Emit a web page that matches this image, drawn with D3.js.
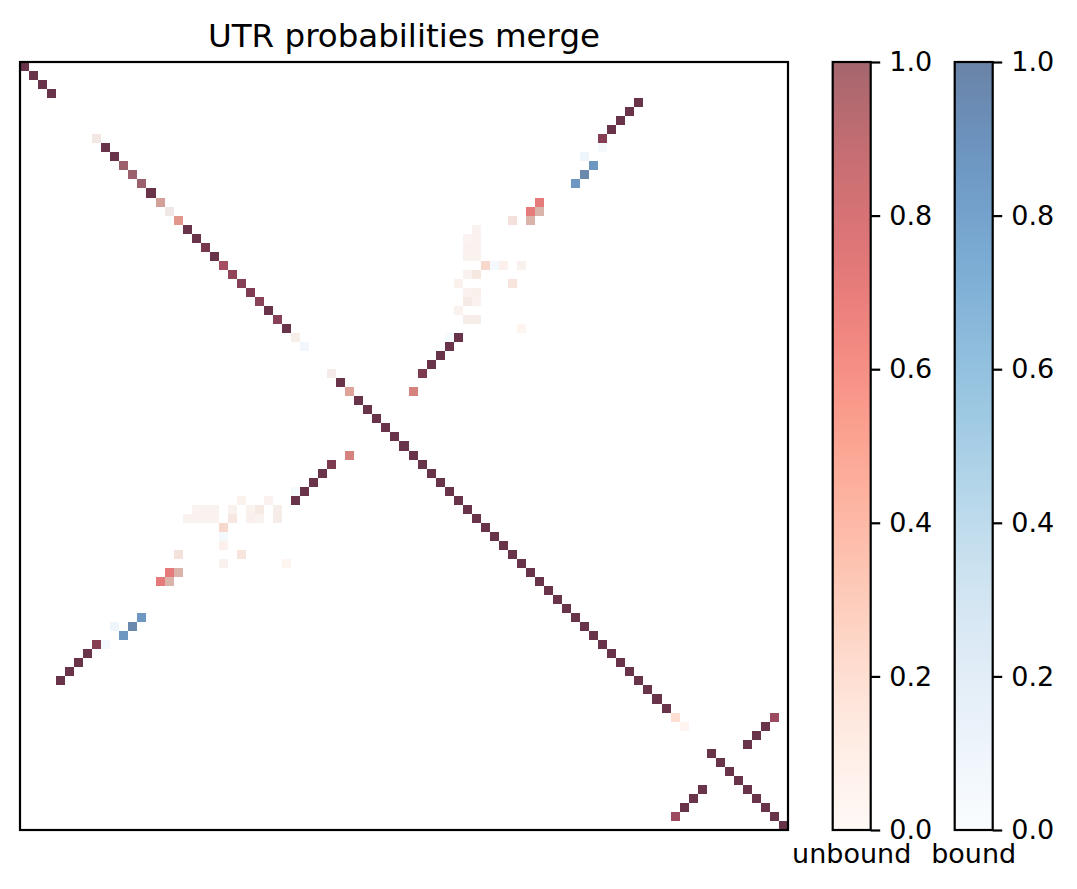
<!DOCTYPE html>
<html>
<head>
<meta charset="utf-8">
<script src="https://cdn.jsdelivr.net/npm/d3@7"></script>
<style>
  body { margin: 0; background: #fff; }
  svg { display: block; font-family: "DejaVu Sans", sans-serif; }
</style>
</head>
<body>
<svg id="chart" width="1077" height="889"></svg>
<script>
// sequence length (matrix is N x N, symmetric)
const N = 85;

// diagonal values, index 0..84 (0 = masked)
const diagUnbound = [
  1, 1, 1, 1, 0, 0, 0, 0, 0.1, 1,
  1, 1, 1, 1, 1, 0.4, 0.08, 0.5, 1, 1,
  0.95, 1, 0.75, 0.85, 0.9, 0.92, 0.88, 1, 0.9, 1,
  0.07, 0, 0, 0, 0.07, 1, 0.42, 1, 1, 1,
  1, 1, 1, 1, 1, 1, 1, 1, 1, 1,
  1, 1, 1, 1, 1, 1, 1, 1, 1, 1,
  1, 1, 1, 1, 1, 1, 1, 1, 1, 1,
  1, 1, 0.2, 0.05, 0, 0, 1, 1, 1, 1,
  1, 1, 1, 1, 1
];
const diagBound = [
  1, 1, 1, 1, 0, 0, 0, 0, 0.2, 1,
  1, 0.15, 0.15, 0.15, 1, 0.6, 0.25, 0.4, 1, 1,
  1, 1, 0.85, 0.9, 0.9, 0.95, 0.88, 1, 0.9, 1,
  0.1, 0.08, 0, 0, 0.15, 1, 0.45, 1, 1, 1,
  1, 1, 1, 1, 1, 1, 1, 1, 1, 1,
  1, 1, 1, 1, 1, 1, 1, 1, 1, 1,
  1, 1, 1, 1, 1, 1, 1, 1, 1, 1,
  1, 1, 0, 0, 0, 0, 1, 1, 1, 1,
  1, 1, 1, 1, 1
];

// off-diagonal pairs (upper triangle): [i, j, unbound, bound]
const pairs = [
  [4, 68, 1, 1], [5, 67, 1, 1], [6, 66, 1, 1], [7, 65, 1, 1],
  [8, 64, 0.9, 0.95], [9, 64, 0, 0.05], [10, 62, 0, 0.1],
  [11, 63, 0, 0.88], [12, 62, 0, 0.97], [13, 61, 0, 0.87],
  [15, 57, 0.72, 0], [16, 56, 0.72, 0], [16, 57, 0.33, 0.5],
  [17, 54, 0.15, 0.15], [17, 56, 0.33, 0.5],
  [18, 50, 0.04, 0.08], [19, 49, 0.03, 0.06], [19, 50, 0.04, 0.08],
  [20, 49, 0.04, 0.08], [20, 50, 0.04, 0.08],
  [21, 49, 0.04, 0.08], [21, 50, 0.04, 0.08],
  [22, 51, 0.22, 0.1], [22, 52, 0, 0.05], [22, 53, 0.07, 0.03], [22, 55, 0.05, 0.08],
  [23, 49, 0.04, 0.07], [23, 50, 0.12, 0.1],
  [24, 48, 0.05, 0.05], [24, 54, 0.14, 0.1],
  [25, 49, 0.04, 0.07], [25, 50, 0.06, 0.09],
  [26, 49, 0.1, 0.12], [26, 50, 0.04, 0.07],
  [27, 48, 0.04, 0.06],
  [28, 49, 0.08, 0.1], [28, 50, 0.08, 0.1],
  [29, 55, 0.04, 0],
  [30, 47, 0, 0.04], [30, 48, 1, 1], [31, 47, 1, 1], [32, 46, 1, 1],
  [33, 45, 1, 1], [34, 44, 0.93, 0.97], [36, 43, 0.58, 0.48],
  [72, 83, 0.8, 0.85], [73, 82, 1, 1], [74, 81, 1, 1], [75, 80, 1, 1]
];

const cbTicks = [0, 0.2, 0.4, 0.6, 0.8, 1.0];
const cbLabels = ['unbound', 'bound'];
const title = 'UTR probabilities merge';

// build sparse cell lists (mirror across diagonal)
let redCells = [];
let blueCells = [];
diagUnbound.forEach((v, i) => { if (v > 0) redCells.push({ r: i, c: i, v }); });
diagBound.forEach((v, i) => { if (v > 0) blueCells.push({ r: i, c: i, v }); });
pairs.forEach(([i, j, u, b]) => {
  if (u > 0) redCells.push({ r: i, c: j, v: u }, { r: j, c: i, v: u });
  if (b > 0) blueCells.push({ r: i, c: j, v: b }, { r: j, c: i, v: b });
});

const svg = d3.select('#chart');
const alpha = 0.6;

let x = d3.scaleBand().domain(d3.range(N)).range([20, 788]);
let y = d3.scaleBand().domain(d3.range(N)).range([62, 830]);

let heat = svg.append('g').attr('shape-rendering', 'crispEdges');

// bound layer underneath, unbound on top
heat.append('g').selectAll('rect')
  .data(blueCells)
  .join('rect')
  .attr('x', (d) => x(d.c))
  .attr('y', (d) => y(d.r))
  .attr('width', x.bandwidth())
  .attr('height', y.bandwidth())
  .attr('fill', (d) => d3.interpolateBlues(d.v))
  .attr('fill-opacity', alpha);

heat.append('g').selectAll('rect')
  .data(redCells)
  .join('rect')
  .attr('x', (d) => x(d.c))
  .attr('y', (d) => y(d.r))
  .attr('width', x.bandwidth())
  .attr('height', y.bandwidth())
  .attr('fill', (d) => d3.interpolateReds(d.v))
  .attr('fill-opacity', alpha);

svg.append('rect')
  .attr('x', 20).attr('y', 62)
  .attr('width', 768).attr('height', 768)
  .attr('fill', 'none')
  .attr('stroke', '#000')
  .attr('stroke-width', 2.2);

svg.append('text')
  .attr('x', 404).attr('y', 47)
  .attr('text-anchor', 'middle')
  .attr('font-size', 32.5)
  .text(title);

// colorbars
let cbScale = d3.scaleLinear().domain([0, 1]).range([830, 62]);
let defs = svg.append('defs');
const bars = [
  { x: 832.7, interp: d3.interpolateReds, id: 'grad-unbound', label: cbLabels[0] },
  { x: 954.7, interp: d3.interpolateBlues, id: 'grad-bound', label: cbLabels[1] }
];
const barW = 38;

bars.forEach((bar) => {
  let grad = defs.append('linearGradient')
    .attr('id', bar.id)
    .attr('x1', 0).attr('y1', 1).attr('x2', 0).attr('y2', 0);
  d3.range(0, 1.0001, 0.05).forEach((t) => {
    grad.append('stop')
      .attr('offset', t)
      .attr('stop-color', bar.interp(t))
      .attr('stop-opacity', alpha);
  });

  svg.append('rect')
    .attr('x', bar.x).attr('y', 62)
    .attr('width', barW).attr('height', 768)
    .attr('fill', `url(#${bar.id})`)
    .attr('stroke', '#000')
    .attr('stroke-width', 2.2);

  let axis = svg.append('g')
    .attr('transform', `translate(${bar.x + barW},0)`)
    .call(d3.axisRight(cbScale)
      .tickValues(cbTicks)
      .tickFormat(d3.format('.1f'))
      .tickSize(9.5)
      .tickPadding(9));
  axis.select('.domain').remove();
  axis.selectAll('line').attr('stroke', '#000').attr('stroke-width', 2.2);
  axis.selectAll('text')
    .attr('fill', '#000')
    .attr('font-size', 27)
    .attr('font-family', '"DejaVu Sans", sans-serif');

  svg.append('text')
    .attr('x', bar.x + barW / 2).attr('y', 863)
    .attr('text-anchor', 'middle')
    .attr('font-size', 27)
    .text(bar.label);
});
</script>
</body>
</html>
